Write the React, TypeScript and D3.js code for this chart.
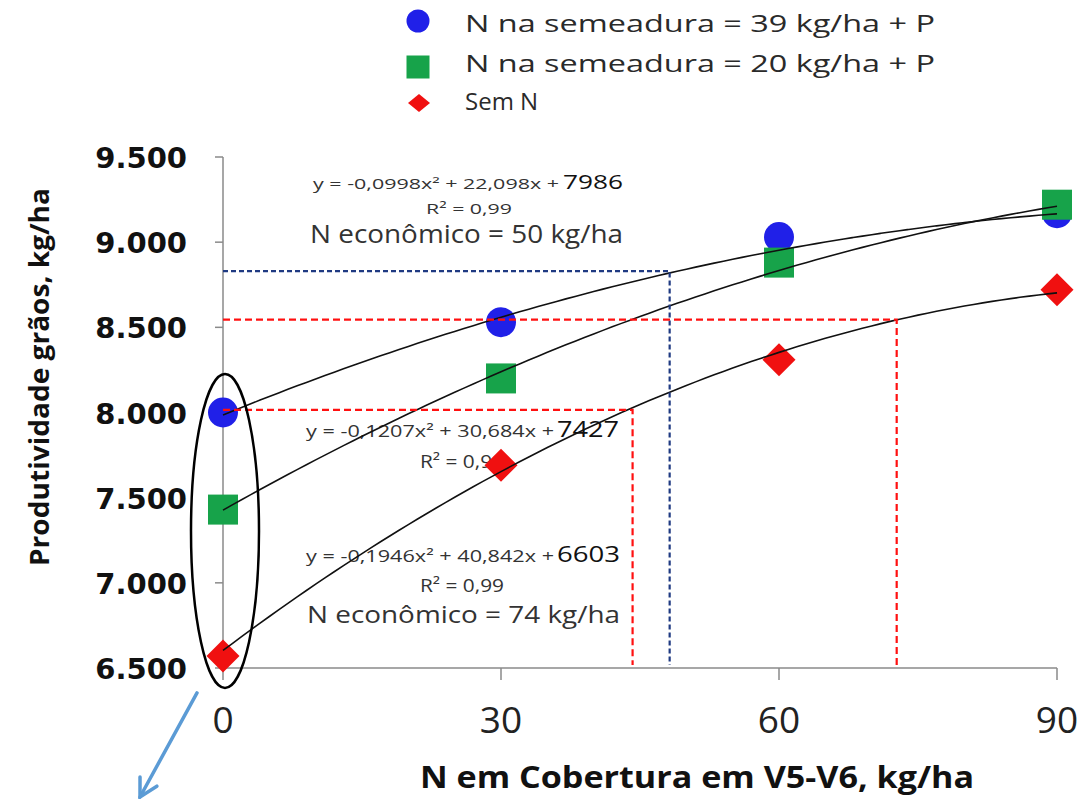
import React from "react";
import * as d3 from "d3";

// nitrogen side-dress rates (kg/ha)
const N_RATES = [0, 30, 60, 90];
// grain yield, kg/ha
const YIELD_39P = [8000, 8530, 9030, 9170];
const YIELD_20P = [7430, 8200, 8880, 9220];
const YIELD_SEM = [6570, 7690, 8310, 8720];
const Y_TICKS = [6500, 7000, 7500, 8000, 8500, 9000, 9500];
const X_TICKS = [0, 30, 60, 90];
const LEGEND = [
  "N na semeadura = 39 kg/ha + P",
  "N na semeadura = 20 kg/ha + P",
  "Sem N",
];
// quadratic fits shown on the chart: y = a x^2 + b x + c
const FIT_A = [-0.0998, -0.1207, -0.1946];
const FIT_B = [22.098, 30.684, 40.842];
const FIT_C = [7986, 7427, 6603];
// economic N guide lines (x, y in data units)
const GUIDES = [
  { x: 48.2, y: 8830, color: "#1f3a82", dash: "5,3" },
  { x: 44.2, y: 8015, color: "#ff1010", dash: "7,4" },
  { x: 72.7, y: 8545, color: "#ff1010", dash: "7,4" },
];

const WIDTH = 1080;
const HEIGHT = 799;
const PLOT = { left: 223, right: 1057, top: 157, bottom: 668 };
const BLUE = "#2020e8";
const GREEN = "#17a34a";
const RED = "#f01010";
const AXIS = "#8a8a8a";

const xScale = d3.scaleLinear().domain([0, 90]).range([PLOT.left, PLOT.right]);
const yScale = d3.scaleLinear().domain([6500, 9500]).range([PLOT.bottom, PLOT.top]);
const fmt = d3
  .formatLocale({ decimal: ",", thousands: ".", grouping: [3], currency: ["", ""] })
  .format(",");

const curve = d3
  .line<number[]>()
  .x((d) => xScale(d[0]))
  .y((d) => yScale(d[1]))
  .curve(d3.curveMonotoneX);

const fitPoints = (i: number) =>
  d3.range(0, 90.5, 1).map((x) => [x, FIT_A[i] * x * x + FIT_B[i] * x + FIT_C[i]]);

const circle = (cx: number, cy: number, r: number, fill: string) => (
  <circle cx={cx} cy={cy} r={r} fill={fill} />
);
const square = (cx: number, cy: number, s: number, fill: string) => (
  <rect x={cx - s / 2} y={cy - s / 2} width={s} height={s} fill={fill} />
);
const diamond = (cx: number, cy: number, w: number, h: number, fill: string) => (
  <path
    d={`M${cx},${cy - h}L${cx + w},${cy}L${cx},${cy + h}L${cx - w},${cy}Z`}
    fill={fill}
  />
);

const TXT = "'Open Sans', sans-serif";

export default function App() {
  // ellipse around the 0 kg/ha points
  const ellTop = yScale(8226);
  const ellBottom = yScale(6383);
  const ellCx = xScale(0) + 2;

  // arrow from ellipse bottom
  const a0 = [ellCx - 28, ellBottom + 5];
  const a1 = [140, 797];
  const ang = Math.atan2(a1[1] - a0[1], a1[0] - a0[0]);
  const head = 20;
  const h1 = [a1[0] - head * Math.cos(ang - 0.5), a1[1] - head * Math.sin(ang - 0.5)];
  const h2 = [a1[0] - head * Math.cos(ang + 0.5), a1[1] - head * Math.sin(ang + 0.5)];

  return (
    <svg
      width={WIDTH}
      height={HEIGHT}
      style={{ position: "absolute", left: 0, top: 0, background: "#fff" }}
    >
      {/* legend */}
      <g fontFamily={TXT} fontSize={24} fill="#2a2a2a">
        {circle(418, 21, 11.5, BLUE)}
        <text x={465} y={32} textLength={470} lengthAdjust="spacingAndGlyphs">
          {LEGEND[0]}
        </text>
        {square(418, 67, 23, GREEN)}
        <text x={465} y={72} textLength={470} lengthAdjust="spacingAndGlyphs">
          {LEGEND[1]}
        </text>
        {diamond(419, 103, 11, 9, RED)}
        <text x={465} y={110}>
          {LEGEND[2]}
        </text>
      </g>

      {/* axes */}
      <g stroke={AXIS} strokeWidth={1.5}>
        <line x1={PLOT.left} x2={PLOT.left} y1={PLOT.top} y2={PLOT.bottom} />
        <line x1={PLOT.left} x2={PLOT.right} y1={PLOT.bottom} y2={PLOT.bottom} />
        {Y_TICKS.map((t) => (
          <line key={t} x1={PLOT.left - 8} x2={PLOT.left} y1={yScale(t)} y2={yScale(t)} />
        ))}
        {X_TICKS.map((t) => (
          <line key={t} x1={xScale(t)} x2={xScale(t)} y1={PLOT.bottom} y2={PLOT.bottom + 12} />
        ))}
      </g>
      <g fontFamily="'DejaVu Sans', sans-serif" fontWeight="bold" fontSize={29} fill="#111">
        {Y_TICKS.map((t) => (
          <text key={t} x={187} y={yScale(t) + 11} textAnchor="end">
            {fmt(t)}
          </text>
        ))}
      </g>
      <g fontFamily={TXT} fontSize={37} fill="#222">
        {X_TICKS.map((t) => (
          <text key={t} x={xScale(t)} y={733} textAnchor="middle">
            {t}
          </text>
        ))}
      </g>
      <text
        x={697}
        y={788}
        textAnchor="middle"
        fontFamily={TXT}
        fontWeight="bold"
        fontSize={31}
        fill="#111"
        textLength={554}
        lengthAdjust="spacingAndGlyphs"
      >
        N em Cobertura em V5-V6, kg/ha
      </text>
      <text
        transform="translate(49,377) rotate(-90)"
        textAnchor="middle"
        fontFamily={TXT}
        fontWeight="bold"
        fontSize={26}
        fill="#111"
        textLength={378}
        lengthAdjust="spacingAndGlyphs"
      >
        Produtividade grãos, kg/ha
      </text>

      {/* equations */}
      <g fontFamily={TXT} fill="#333" style={{ whiteSpace: "pre" }}>
        <text x={313} y={189} fontSize={14} textLength={246} lengthAdjust="spacingAndGlyphs">
          y = -0,0998x² + 22,098x +
        </text>
        <text x={563} y={189} fontSize={20} textLength={60} lengthAdjust="spacingAndGlyphs" fill="#111">
          7986
        </text>
        <text x={426} y={214} fontSize={15} textLength={86} lengthAdjust="spacingAndGlyphs">
          R² = 0,99
        </text>
        <text x={310} y={243} fontSize={25} textLength={313} lengthAdjust="spacingAndGlyphs">
          {"N econômico =  50 kg/ha"}
        </text>

        <text x={306} y={437} fontSize={17} textLength={248} lengthAdjust="spacingAndGlyphs">
          y = -0,1207x² + 30,684x +
        </text>
        <text x={557} y={437} fontSize={21} textLength={62} lengthAdjust="spacingAndGlyphs" fill="#111">
          7427
        </text>
        <text x={420} y={468} fontSize={18} textLength={84} lengthAdjust="spacingAndGlyphs">
          R² = 0,99
        </text>

        <text x={306} y={562} fontSize={17} textLength={248} lengthAdjust="spacingAndGlyphs">
          y = -0,1946x² + 40,842x +
        </text>
        <text x={557} y={562} fontSize={21} textLength={63} lengthAdjust="spacingAndGlyphs" fill="#111">
          6603
        </text>
        <text x={420} y={592} fontSize={18} textLength={84} lengthAdjust="spacingAndGlyphs">
          R² = 0,99
        </text>
        <text x={307} y={623} fontSize={24} textLength={313} lengthAdjust="spacingAndGlyphs">
          N econômico = 74 kg/ha
        </text>
      </g>

      {/* markers */}
      <g>
        {N_RATES.map((n, i) => (
          <g key={"b" + n}>{circle(xScale(n), yScale(YIELD_39P[i]), 15, BLUE)}</g>
        ))}
        {N_RATES.map((n, i) => (
          <g key={"g" + n}>{square(xScale(n), yScale(YIELD_20P[i]), 30, GREEN)}</g>
        ))}
        {N_RATES.map((n, i) => (
          <g key={"r" + n}>{diamond(xScale(n), yScale(YIELD_SEM[i]), 16.5, 16.5, RED)}</g>
        ))}
      </g>

      {/* trend lines */}
      <g fill="none" stroke="#111" strokeWidth={1.6}>
        {FIT_A.map((_, i) => (
          <path key={i} d={curve(fitPoints(i)) || ""} />
        ))}
      </g>

      {/* guide lines */}
      <g fill="none" strokeWidth={2.2}>
        {GUIDES.map((g, i) => (
          <path
            key={i}
            d={`M${PLOT.left},${yScale(g.y)}H${xScale(g.x)}V${PLOT.bottom - 3}`}
            stroke={g.color}
            strokeDasharray={g.dash}
          />
        ))}
      </g>

      {/* highlight ellipse and arrow */}
      <ellipse
        cx={ellCx}
        cy={(ellTop + ellBottom) / 2}
        rx={34}
        ry={(ellBottom - ellTop) / 2}
        fill="none"
        stroke="#000"
        strokeWidth={2.5}
      />
      <g stroke="#5b9bd5" strokeWidth={3.5} fill="none" strokeLinecap="round">
        <line x1={a0[0]} y1={a0[1]} x2={a1[0]} y2={a1[1]} />
        <polyline points={`${h1[0]},${h1[1]} ${a1[0]},${a1[1]} ${h2[0]},${h2[1]}`} />
      </g>
    </svg>
  );
}
